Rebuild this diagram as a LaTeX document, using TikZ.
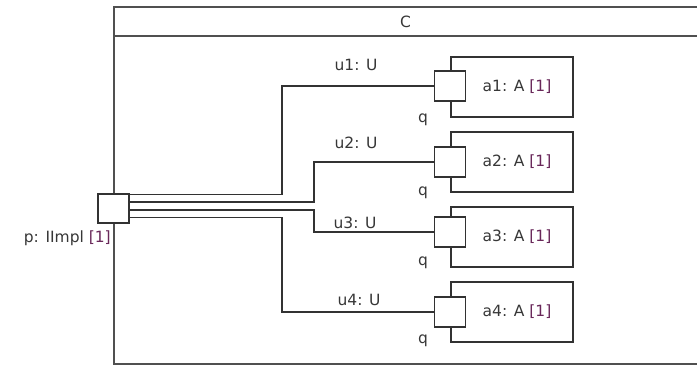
\documentclass[tikz,border=0pt]{standalone}
\usepackage{fontspec}
\setmainfont{DejaVu Sans}
\definecolor{txt}{RGB}{55,55,55}
\definecolor{mult}{RGB}{105,40,90}
\definecolor{ln}{RGB}{50,50,50}
\definecolor{frm}{RGB}{80,80,80}
\begin{document}
\begin{tikzpicture}[x=1pt,y=-1pt,
  frameline/.style={draw=frm,line width=1.7pt},
  conn/.style={draw=ln,line width=1.4pt},
  portbox/.style={draw=ln,line width=1.4pt,fill=white,minimum width=31pt,minimum height=30pt,inner sep=0pt},
  partbox/.style={draw=ln,line width=1.4pt,minimum width=122pt,minimum height=60pt,inner sep=0pt},
  lbl/.style={text=txt,font=\fontsize{15.5}{17}\selectfont,inner sep=0pt}]
\useasboundingbox (0,0) rectangle (697,366);
\fill[white] (0,0) rectangle (697,366);
% frame of C
\draw[frameline] (697,7) -- (114,7) -- (114,364) -- (697,364);
\draw[frameline] (114,36) -- (697,36);
\node[lbl] (ctitle) at (405.5,22) {C};
% parts
\foreach \i/\y in {1/87,2/162,3/237,4/312}{
  \node[partbox] (a\i) at (512,\y) {};
  \node[lbl] (a\i t) at (517,\y) {a\i: A \textcolor{mult}{[1]}};
}
% ports q
\node[portbox] (q1) at (450,86) {};
\node[portbox] (q2) at (450,162) {};
\node[portbox] (q3) at (450,232) {};
\node[portbox] (q4) at (450,312) {};
\node[lbl] (q1l) at (423,120) {q};
\node[lbl] (q2l) at (423,193) {q};
\node[lbl] (q3l) at (423,263) {q};
\node[lbl] (q4l) at (423,341) {q};
% port p
\node[portbox,minimum width=31pt,minimum height=29pt] (p) at (113.5,208.5) {};
\node[lbl,anchor=east] (pl) at (111,238) {p: IImpl \textcolor{mult}{[1]}};
% bends
\coordinate (b1) at (282,194.5);
\coordinate (b2) at (314,202);
\coordinate (b3) at (314,210);
\coordinate (b4) at (282,217.5);
\draw[conn] (p.east |- b1) -- (b1) |- (q1.west);
\draw[conn] (p.east |- b2) -- (b2) |- (q2.west);
\draw[conn] (p.east |- b3) -- (b3) |- (q3.west);
\draw[conn] (p.east |- b4) -- (b4) |- (q4.west);
% connector labels
\node[lbl] (u1) at (356,65) {u1: U};
\node[lbl] (u2) at (356,143) {u2: U};
\node[lbl] (u3) at (355,223) {u3: U};
\node[lbl] (u4) at (359,300) {u4: U};
\end{tikzpicture}
\end{document}
